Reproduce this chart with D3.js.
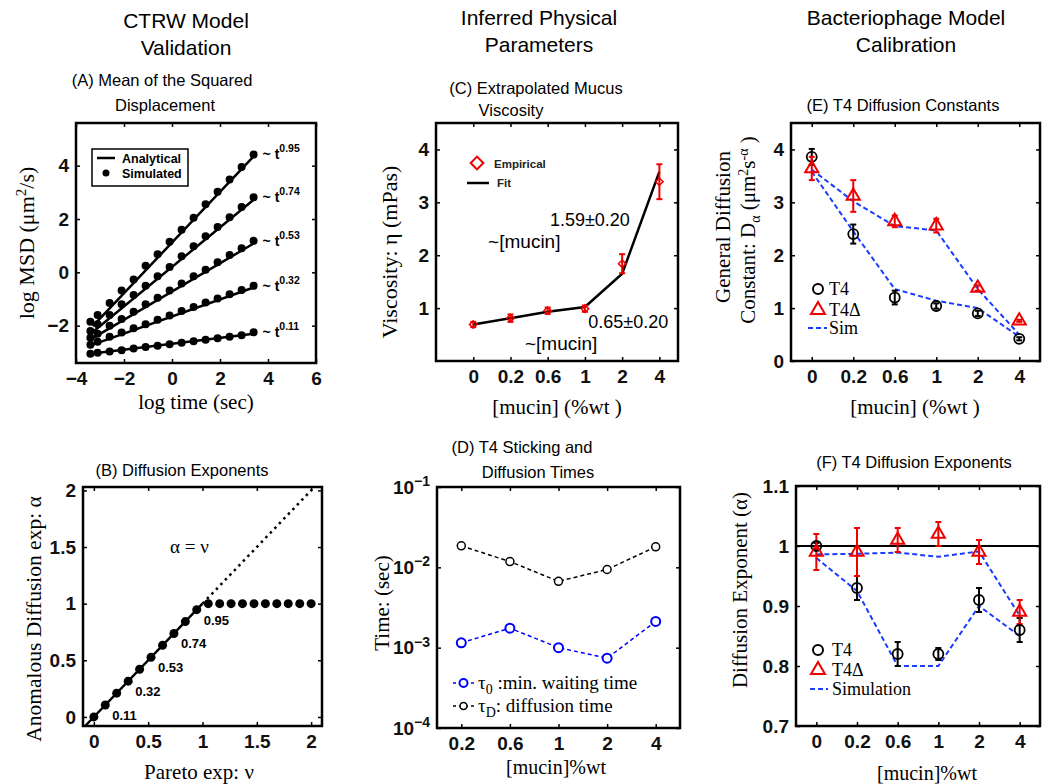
<!DOCTYPE html>
<html><head><meta charset="utf-8">
<script src="https://cdn.jsdelivr.net/npm/d3@7"></script>
<style>body{margin:0;background:#fff}svg{display:block}</style>
</head><body>
<svg id="c" width="1046" height="784"></svg>
<script>
// ---------- Panel A data ----------
const msdTime = [-3.4,-3.1,-2.6,-2.1,-1.6,-1.1,-0.6,-0.1,0.4,0.9,1.4,1.9,2.4,2.9,3.4];
const msdSim095 = [-1.85,-1.6,-1.15,-0.68,-0.27,0.25,0.68,1.15,1.6,2.05,2.55,3.02,3.48,3.95,4.42];
const msdSim074 = [-2.2,-1.95,-1.6,-1.2,-0.85,-0.5,-0.15,0.2,0.6,0.98,1.35,1.7,2.07,2.45,2.82];
const msdSim053 = [-2.45,-2.3,-2.0,-1.75,-1.48,-1.2,-0.95,-0.68,-0.42,-0.15,0.1,0.38,0.65,0.9,1.18];
const msdSim032 = [-2.72,-2.6,-2.42,-2.26,-2.1,-1.95,-1.78,-1.62,-1.45,-1.3,-1.13,-0.98,-0.82,-0.66,-0.5];
const msdSim011 = [-3.05,-3.02,-2.97,-2.92,-2.86,-2.8,-2.75,-2.7,-2.64,-2.58,-2.53,-2.47,-2.42,-2.36,-2.25];
const msdFitTime = [-3.3, 3.4];
const msdFit095 = [-2.02, 4.35];
const msdFit074 = [-2.24, 2.72];
const msdFit053 = [-2.47, 1.08];
const msdFit032 = [-2.71, -0.57];
const msdFit011 = [-3.04, -2.30];
const msdExpLabels = ["0.95","0.74","0.53","0.32","0.11"];
const msdXTicks = [-4,-2,0,2,4,6];
const msdYTicks = [-2,0,2,4];

// ---------- Panel B data ----------
const paretoNu = [0,0.105,0.21,0.316,0.421,0.526,0.632,0.737,0.842,0.947,1.053,1.158,1.263,1.368,1.474,1.579,1.684,1.789,1.895,2.0];
const anomAlpha = [0,0.105,0.21,0.316,0.421,0.526,0.632,0.737,0.842,0.947,1,1,1,1,1,1,1,1,1,1];
const theorySolid = [-0.08, 1.0];
const theoryDotted = [1.0, 2.03];
const expLabels = ["0.11","0.32","0.53","0.74","0.95"];
const expLabelIdx = [1,3,5,7,9];
const paretoTicks = [0,0.5,1,1.5,2];

// ---------- Panel C data ----------
const mucinCats = ["0","0.2","0.6","1","2","4"];
const viscEmp = [0.69,0.81,0.95,0.99,1.84,3.39];
const viscErr = [0.05,0.07,0.06,0.06,0.18,0.33];
const viscFit = [0.69,0.81,0.93,1.02,1.65,3.58];
const viscTicks = [1,2,3,4];

// ---------- Panel D data ----------
const timeCats = ["0.2","0.6","1","2","4"];
const tauD = [0.0185,0.0118,0.0067,0.0094,0.0180];
const tau0 = [0.00115,0.00175,0.00100,0.00074,0.00212];
const timeTicks = [1e-4,1e-3,1e-2,1e-1];

// ---------- Panel E data ----------
const dT4 = [3.86,2.40,1.20,1.04,0.90,0.42];
const dT4Err = [0.15,0.18,0.13,0.05,0.05,0.03];
const dT4d = [3.64,3.12,2.64,2.56,1.38,0.76];
const dT4dErr = [0.22,0.30,0.11,0.13,0.05,0.02];
const simDT4 = [3.58,2.45,1.36,1.14,1.00,0.46];
const simDT4d = [3.62,3.02,2.55,2.47,1.36,0.50];
const diffTicks = [0,1,2,3,4];

// ---------- Panel F data ----------
const aT4 = [1.00,0.93,0.82,0.82,0.91,0.86];
const aT4Err = [0.005,0.02,0.02,0.01,0.02,0.02];
const aT4d = [0.99,0.99,1.01,1.02,0.99,0.89];
const aT4dErr = [0.03,0.04,0.02,0.02,0.02,0.02];
const simAT4 = [0.98,0.925,0.80,0.80,0.90,0.85];
const simAT4d = [0.986,0.987,0.989,0.982,0.991,0.884];
const expTicks = [0.7,0.8,0.9,1.0,1.1];

// ---------- helpers ----------
const svg = d3.select("#c");
const SANS = "'Liberation Sans', Arial, sans-serif";
const SERIF = "'Liberation Serif', 'Times New Roman', serif";

function axes(g, x, y, xt, xf, yt, yf) {
  const [x0,x1] = x.range(), [y0,y1] = y.range();
  const style = s => s.selectAll("text").attr("font-family",SANS).attr("font-weight","bold").attr("font-size","19px").attr("fill","#111");
  const b = g.append("g").attr("transform",`translate(0,${y0})`)
    .call(d3.axisBottom(x).tickValues(xt).tickFormat(xf).tickSizeInner(-4).tickSizeOuter(0).tickPadding(9));
  b.select(".domain").remove(); style(b);
  const t = g.append("g").attr("transform",`translate(0,${y1})`)
    .call(d3.axisTop(x).tickValues(xt).tickFormat("").tickSizeInner(-4).tickSizeOuter(0));
  t.select(".domain").remove();
  const l = g.append("g").attr("transform",`translate(${x0},0)`)
    .call(d3.axisLeft(y).tickValues(yt).tickFormat(yf).tickSizeInner(-4).tickSizeOuter(0).tickPadding(7));
  l.select(".domain").remove(); style(l);
  const r = g.append("g").attr("transform",`translate(${x1},0)`)
    .call(d3.axisRight(y).tickValues(yt).tickFormat("").tickSizeInner(-4).tickSizeOuter(0));
  r.select(".domain").remove();
  g.selectAll(".tick line").attr("stroke","#000").attr("stroke-width",1.5);
  g.append("rect").attr("x",x0).attr("y",y1).attr("width",x1-x0).attr("height",y0-y1)
    .attr("fill","none").attr("stroke","#000").attr("stroke-width",2.5);
  return {b,l};
}
function text(x,y,s,o={}) {
  const t = svg.append("text").attr("x",x).attr("y",y).text(s)
    .attr("font-family",o.family||SANS).attr("font-size",(o.size||17)+"px")
    .attr("text-anchor",o.anchor||"middle").attr("fill",o.fill||"#000");
  if (o.bold) t.attr("font-weight","bold");
  return t;
}
function ylab(cx,cy,size,build) {
  const t = svg.append("text").attr("transform",`translate(${cx},${cy}) rotate(-90)`)
    .attr("dy","0.35em").attr("text-anchor","middle").attr("font-family",SERIF).attr("font-size",size+"px");
  build(t); return t;
}
function errbars(g, x, y, vals, errs, color, cap) {
  vals.forEach((v,i)=>{
    const cx = x(i+1), yt = y(v+errs[i]), yb = y(v-errs[i]);
    g.append("line").attr("x1",cx).attr("x2",cx).attr("y1",yt).attr("y2",yb).attr("stroke",color).attr("stroke-width",2);
    [yt,yb].forEach(yy=>g.append("line").attr("x1",cx-cap).attr("x2",cx+cap).attr("y1",yy).attr("y2",yy).attr("stroke",color).attr("stroke-width",2));
  });
}

// ---------- column titles ----------
text(186,28,"CTRW Model",{size:21});
text(186,55,"Validation",{size:21});
text(539,25,"Inferred Physical",{size:21});
text(539,52,"Parameters",{size:21});
text(906,25,"Bacteriophage Model",{size:21});
text(906,52,"Calibration",{size:21});

// ---------- Panel A ----------
{
  const g = svg.append("g");
  const x = d3.scaleLinear().domain([-4,6]).range([76,316]);
  const y = d3.scaleLinear().domain([-3.4,5.6]).range([363,123]);
  const fits = [msdFit095,msdFit074,msdFit053,msdFit032,msdFit011];
  const sims = [msdSim095,msdSim074,msdSim053,msdSim032,msdSim011];
  const line = d3.line().x(d=>x(d[0])).y(d=>y(d[1]));
  fits.forEach(f=>g.append("path").attr("d",line(msdFitTime.map((t,i)=>[t,f[i]]))).attr("stroke","#000").attr("stroke-width",2.5).attr("fill","none"));
  sims.forEach(s=>s.forEach((v,i)=>g.append("circle").attr("cx",x(msdTime[i])).attr("cy",y(v)).attr("r",4).attr("fill","#000")));
  sims.forEach((s,k)=>{
    const t = g.append("text").attr("x",x(msdTime[msdTime.length-1])+9).attr("y",y(s[s.length-1])+5)
      .attr("font-family",SANS).attr("font-weight","bold").attr("font-size","14px").text("~ t");
    t.append("tspan").attr("dy","-7").attr("font-size","10.5px").text(msdExpLabels[k]);
  });
  axes(g,x,y,msdXTicks,d=>d<0?"−"+(-d):d,msdYTicks,d=>d<0?"−"+(-d):d);
  // legend
  g.append("rect").attr("x",92).attr("y",149).attr("width",96).attr("height",37).attr("fill","#fff").attr("stroke","#000").attr("stroke-width",1.5);
  g.append("line").attr("x1",97).attr("x2",115).attr("y1",158).attr("y2",158).attr("stroke","#000").attr("stroke-width",2.5);
  g.append("circle").attr("cx",106).attr("cy",173).attr("r",3.5).attr("fill","#000");
  text(122,162.5,"Analytical",{size:12.5,bold:true,anchor:"start"});
  text(122,177.5,"Simulated",{size:12.5,bold:true,anchor:"start"});
  text(162,86,"(A) Mean of the Squared",{size:16.5});
  text(165,111,"Displacement",{size:16.5});
  ylab(26,243,22,t=>{t.append("tspan").text("log MSD (μm");t.append("tspan").attr("dy","-8").attr("font-size","15px").text("2");t.append("tspan").attr("dy","8").text("/s)");});
  text(196,409,"log time (sec)",{family:SERIF,size:21});
}

// ---------- Panel B ----------
{
  const g = svg.append("g");
  const x = d3.scaleLinear().domain([-0.1,2.1]).range([83,322]);
  const y = d3.scaleLinear().domain([-0.08,2.03]).range([726,487]);
  g.append("line").attr("x1",x(theorySolid[0])).attr("y1",y(theorySolid[0])).attr("x2",x(theorySolid[1])).attr("y2",y(theorySolid[1])).attr("stroke","#000").attr("stroke-width",2.5);
  g.append("line").attr("x1",x(theoryDotted[0])).attr("y1",y(theoryDotted[0])).attr("x2",x(theoryDotted[1])).attr("y2",y(theoryDotted[1])).attr("stroke","#000").attr("stroke-width",2.5).attr("stroke-dasharray","2.5,4");
  paretoNu.forEach((n,i)=>g.append("circle").attr("cx",x(n)).attr("cy",y(anomAlpha[i])).attr("r",4.5).attr("fill","#000"));
  expLabelIdx.forEach((ix,k)=>text(x(paretoNu[ix])+7,y(anomAlpha[ix])+15,expLabels[k],{size:13,bold:true,anchor:"start"}));
  text(x(0.88),y(1.5)+6,"α = ν",{family:SERIF,size:19});
  axes(g,x,y,paretoTicks,d3.format("~g"),paretoTicks,d3.format("~g"));
  text(182,476,"(B) Diffusion Exponents",{size:16.5});
  ylab(33,619,21.5,t=>t.text("Anomalous Diffusion  exp: α"));
  text(199,779,"Pareto exp: ν",{family:SERIF,size:21});
}

// ---------- Panel C ----------
{
  const g = svg.append("g");
  const x = d3.scaleLinear().domain([0,6.5]).range([436,678]);
  const y = d3.scaleLinear().domain([0,4.5]).range([361,123]);
  const idx = mucinCats.map((c,i)=>i+1);
  const diamond = s => d3.symbol(d3.symbolSquare,s)();
  g.append("path").attr("d",d3.line().x((d,i)=>x(i+1)).y(d=>y(d))(viscFit)).attr("fill","none").attr("stroke","#000").attr("stroke-width",2.5);
  errbars(g,x,y,viscEmp,viscErr,"#e00",3);
  viscEmp.forEach((v,i)=>g.append("path").attr("d",diamond(28)).attr("transform",`translate(${x(i+1)},${y(v)}) rotate(45)`).attr("fill","none").attr("stroke","#e00").attr("stroke-width",1.5));
  axes(g,x,y,idx,i=>mucinCats[i-1],viscTicks,d3.format("d"));
  // legend
  g.append("path").attr("d",diamond(80)).attr("transform","translate(477,163) rotate(45)").attr("fill","none").attr("stroke","#e00").attr("stroke-width",2);
  g.append("line").attr("x1",467).attr("x2",489).attr("y1",183).attr("y2",183).attr("stroke","#000").attr("stroke-width",2.5);
  text(494,168,"Empirical",{size:11.5,bold:true,anchor:"start",fill:"#222"});
  text(497,187,"Fit",{size:11.5,bold:true,anchor:"start",fill:"#222"});
  // annotations
  text(x(3.06),y(2.55),"1.59±0.20",{size:18,anchor:"start"});
  text(x(1.4),y(2.14),"~[mucin]",{size:19,anchor:"start"});
  text(x(4.09),y(0.62),"0.65±0.20",{size:18,anchor:"start"});
  text(x(2.39),y(0.21),"~[mucin]",{size:19,anchor:"start"});
  text(536,94,"(C) Extrapolated Mucus",{size:16.5});
  text(511,116,"Viscosity",{size:16.5});
  ylab(389,252,22,t=>t.text("Viscosity: η (mPas)"));
  text(557,414,"[mucin] (%wt )",{family:SERIF,size:21});
}

// ---------- Panel D ----------
{
  const g = svg.append("g");
  const x = d3.scaleLinear().domain([0.5,5.5]).range([437,680]);
  const y = d3.scaleLog().domain([1e-4,1e-1]).range([728,487]);
  const idx = timeCats.map((c,i)=>i+1);
  const line = d3.line().x((d,i)=>x(i+1)).y(d=>y(d));
  g.append("path").attr("d",line(tauD)).attr("fill","none").attr("stroke","#000").attr("stroke-width",1.5).attr("stroke-dasharray","4,3");
  g.append("path").attr("d",line(tau0)).attr("fill","none").attr("stroke","#00f").attr("stroke-width",1.5).attr("stroke-dasharray","4,3");
  tauD.forEach((v,i)=>g.append("circle").attr("cx",x(i+1)).attr("cy",y(v)).attr("r",4).attr("fill","#fff").attr("stroke","#000").attr("stroke-width",1.5));
  tau0.forEach((v,i)=>g.append("circle").attr("cx",x(i+1)).attr("cy",y(v)).attr("r",4.5).attr("fill","#fff").attr("stroke","#00f").attr("stroke-width",2));
  const ax = axes(g,x,y,idx,i=>timeCats[i-1],timeTicks,d=>"10");
  ax.l.selectAll(".tick text").each(function(d){
    d3.select(this).append("tspan").attr("dy","-0.55em").attr("font-size","14px").text("−"+Math.round(-Math.log10(d)));
  });
  // legend
  g.append("line").attr("x1",453).attr("x2",474).attr("y1",683).attr("y2",683).attr("stroke","#00f").attr("stroke-width",1.5).attr("stroke-dasharray","3,3");
  g.append("circle").attr("cx",463.5).attr("cy",683).attr("r",4).attr("fill","#fff").attr("stroke","#00f").attr("stroke-width",2);
  g.append("line").attr("x1",453).attr("x2",474).attr("y1",706).attr("y2",706).attr("stroke","#000").attr("stroke-width",1.5).attr("stroke-dasharray","3,3");
  g.append("circle").attr("cx",463.5).attr("cy",706).attr("r",3.5).attr("fill","#fff").attr("stroke","#000").attr("stroke-width",1.5);
  const l1 = text(478,689,"τ",{family:SERIF,size:19,anchor:"start"});
  l1.append("tspan").attr("dy","5").attr("font-size","14px").text("0");
  l1.append("tspan").attr("dy","-5").text(" :min. waiting time");
  const l2 = text(478,712,"τ",{family:SERIF,size:19,anchor:"start"});
  l2.append("tspan").attr("dy","5").attr("font-size","14px").text("D");
  l2.append("tspan").attr("dy","-5").text(": diffusion time");
  text(522,453,"(D) T4 Sticking and",{size:16.5});
  text(538,478,"Diffusion Times",{size:16.5});
  ylab(382,603,21,t=>t.text("Time: (sec)"));
  text(556,774,"[mucin]%wt",{family:SERIF,size:20});
}

// ---------- Panel E ----------
{
  const g = svg.append("g");
  const x = d3.scaleLinear().domain([0.5,6.5]).range([791,1040]);
  const y = d3.scaleLinear().domain([0,4.5]).range([361,123]);
  const idx = mucinCats.map((c,i)=>i+1);
  const line = d3.line().x((d,i)=>x(i+1)).y(d=>y(d));
  [simDT4,simDT4d].forEach(s=>g.append("path").attr("d",line(s)).attr("fill","none").attr("stroke","#1a3cff").attr("stroke-width",2).attr("stroke-dasharray","5,3"));
  errbars(g,x,y,dT4,dT4Err,"#000",3);
  errbars(g,x,y,dT4d,dT4dErr,"#e00",3);
  dT4.forEach((v,i)=>g.append("circle").attr("cx",x(i+1)).attr("cy",y(v)).attr("r",5).attr("fill","none").attr("stroke","#000").attr("stroke-width",1.8));
  dT4d.forEach((v,i)=>g.append("path").attr("d",d3.symbol(d3.symbolTriangle,75)()).attr("transform",`translate(${x(i+1)},${y(v)})`).attr("fill","none").attr("stroke","#e00").attr("stroke-width",2));
  axes(g,x,y,idx,i=>mucinCats[i-1],diffTicks,d3.format("d"));
  // legend
  g.append("circle").attr("cx",818).attr("cy",289).attr("r",5).attr("fill","none").attr("stroke","#000").attr("stroke-width",2);
  g.append("path").attr("d",d3.symbol(d3.symbolTriangle,85)()).attr("transform","translate(818,310)").attr("fill","none").attr("stroke","#e00").attr("stroke-width",2);
  g.append("line").attr("x1",808).attr("x2",827).attr("y1",328).attr("y2",328).attr("stroke","#1a3cff").attr("stroke-width",2).attr("stroke-dasharray","5,3");
  text(829,295,"T4",{family:SERIF,size:18,anchor:"start"});
  text(829,316,"T4Δ",{family:SERIF,size:18,anchor:"start"});
  text(829,334,"Sim",{family:SERIF,size:18,anchor:"start"});
  text(903,111,"(E) T4 Diffusion Constants",{size:16.5});
  ylab(723,227,21,t=>t.text("General Diffusion"));
  ylab(748,230,21,t=>{
    t.append("tspan").text("Constant: D");
    t.append("tspan").attr("dy","5").attr("font-size","14px").text("α");
    t.append("tspan").attr("dy","-5").text(" (μm");
    t.append("tspan").attr("dy","-7").attr("font-size","14px").text("2");
    t.append("tspan").attr("dy","7").text("s");
    t.append("tspan").attr("dy","-7").attr("font-size","14px").text("-α");
    t.append("tspan").attr("dy","7").text(" )");
  });
  text(915,414,"[mucin] (%wt )",{family:SERIF,size:21});
}

// ---------- Panel F ----------
{
  const g = svg.append("g");
  const x = d3.scaleLinear().domain([0.5,6.5]).range([796,1040]);
  const y = d3.scaleLinear().domain([0.7,1.1]).range([726,486]);
  const idx = mucinCats.map((c,i)=>i+1);
  const line = d3.line().x((d,i)=>x(i+1)).y(d=>y(d));
  g.append("line").attr("x1",x(0.5)).attr("x2",x(6.5)).attr("y1",y(1)).attr("y2",y(1)).attr("stroke","#000").attr("stroke-width",1.8);
  [simAT4,simAT4d].forEach(s=>g.append("path").attr("d",line(s)).attr("fill","none").attr("stroke","#1a3cff").attr("stroke-width",2).attr("stroke-dasharray","5,3"));
  errbars(g,x,y,aT4,aT4Err,"#000",3);
  errbars(g,x,y,aT4d,aT4dErr,"#e00",3);
  aT4.forEach((v,i)=>g.append("circle").attr("cx",x(i+1)).attr("cy",y(v)).attr("r",5).attr("fill","none").attr("stroke","#000").attr("stroke-width",1.8));
  aT4d.forEach((v,i)=>g.append("path").attr("d",d3.symbol(d3.symbolTriangle,75)()).attr("transform",`translate(${x(i+1)},${y(v)})`).attr("fill","none").attr("stroke","#e00").attr("stroke-width",2));
  axes(g,x,y,idx,i=>mucinCats[i-1],expTicks,d3.format("~g"));
  g.append("circle").attr("cx",818).attr("cy",650).attr("r",5).attr("fill","none").attr("stroke","#000").attr("stroke-width",2);
  g.append("path").attr("d",d3.symbol(d3.symbolTriangle,85)()).attr("transform","translate(818,670)").attr("fill","none").attr("stroke","#e00").attr("stroke-width",2);
  g.append("line").attr("x1",810).attr("x2",828).attr("y1",689).attr("y2",689).attr("stroke","#1a3cff").attr("stroke-width",2).attr("stroke-dasharray","5,3");
  text(832,656,"T4",{family:SERIF,size:18,anchor:"start"});
  text(832,676,"T4Δ",{family:SERIF,size:18,anchor:"start"});
  text(832,695,"Simulation",{family:SERIF,size:18,anchor:"start"});
  text(914,468,"(F) T4 Diffusion Exponents",{size:16.5});
  ylab(740,590,21,t=>t.text("Diffusion Exponent (α)"));
  text(927,780,"[mucin]%wt",{family:SERIF,size:20});
}
</script>
</body></html>
